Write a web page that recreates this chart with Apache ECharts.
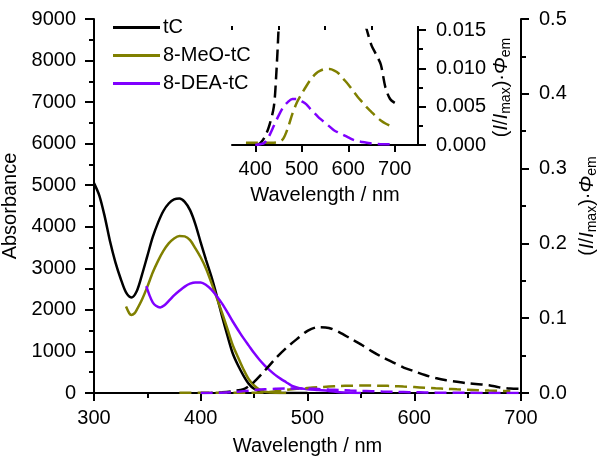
<!DOCTYPE html>
<html>
<head>
<meta charset="utf-8">
<script src="https://cdn.jsdelivr.net/npm/echarts@6/dist/echarts.min.js"></script>
<style>html,body{margin:0;padding:0;background:#fff}#c{width:600px;height:468px}</style>
</head>
<body>
<div id="c"></div>
<script>
// Absorbance data (nm, M^-1 cm^-1)
var tcAbsX = [300,305,310,315,320,325,330,335,340,345,350,355,360,365,370,375,380,385,390,395,400,405,410,415,420,425,430,435,440,445,450,455,460,470,500];
var tcAbsY = [5050,4750,4250,3650,3150,2750,2420,2300,2450,2850,3300,3750,4100,4380,4560,4660,4680,4600,4400,4060,3620,3200,2800,2340,1840,1380,950,660,420,220,100,40,10,0,0];
var meoAbsX = [330,333,335,338,340,345,350,355,360,365,370,375,380,385,390,395,400,405,410,415,420,425,430,435,440,445,450,455,460,470,480];
var meoAbsY = [2080,1920,1880,1920,2000,2250,2560,2900,3180,3420,3600,3720,3780,3770,3680,3480,3260,2990,2650,2290,1925,1540,1150,855,570,330,180,80,30,5,0];
var deaAbsX = [349,352,355,358,362,366,371,375,380,385,390,395,400,405,410,415,420,425,430,437,440,445,450,455,460,465,470,475,480,485,490,495,500,510,520,530,540,550];
var deaAbsY = [2570,2350,2180,2100,2060,2110,2240,2350,2460,2560,2630,2660,2660,2600,2490,2330,2150,1940,1720,1435,1320,1140,960,800,660,540,430,340,260,180,135,105,90,70,50,20,5,0];
// Emission data, (I/Imax)·Φem
var tcEmX = [400,410,420,430,440,445,450,460,470,480,490,500,510,520,530,540,550,560,570,580,590,600,610,620,630,640,650,660,670,680,690,700];
var tcEmY = [0,0.0002,0.001,0.0025,0.005,0.009,0.015,0.030,0.046,0.060,0.072,0.083,0.088,0.087,0.081,0.073,0.065,0.056,0.048,0.041,0.034,0.029,0.024,0.020,0.017,0.015,0.013,0.0118,0.0105,0.0075,0.006,0.0055];
var meoEmX = [380,400,420,440,450,460,470,480,490,500,510,520,530,540,550,560,570,580,590,600,610,620,630,640,650,660,670,680,690];
var meoEmY = [0.0003,0.0003,0.0003,0.0003,0.0004,0.0008,0.0022,0.0041,0.0056,0.0067,0.0077,0.0086,0.0093,0.0097,0.0099,0.0099,0.0097,0.0093,0.0086,0.0079,0.0071,0.0063,0.0056,0.0049,0.0043,0.0037,0.0032,0.0028,0.0025];
var deaEmX = [400,410,420,430,440,450,460,470,480,490,500,510,520,530,540,550,560,570,580,590,600,610,620,630,640,650,670,700];
var deaEmY = [0,0.0001,0.0003,0.0012,0.0025,0.0038,0.0049,0.0056,0.0060,0.0060,0.0057,0.0053,0.0046,0.0040,0.0034,0.0029,0.0024,0.0019,0.0016,0.0013,0.0010,0.0007,0.0005,0.0004,0.0003,0.0002,0.0001,0.0001];
var legendNames = ['tC','8-MeO-tC','8-DEA-tC'];
var insetXMajor = [400,500,600,700];
var insetXMinor = [350,450,550,650,750];

function pairs(xs, ys){ return xs.map(function(x,i){ return [x, ys[i]]; }); }

var FONT = 'Liberation Sans';
var BLACK = '#000000', OLIVE = '#808000', PURPLE = '#8000ff';
var txt = {color:'#000', fontFamily: FONT, fontSize: 20};
var axLine = {show:true, lineStyle:{color:'#000', width:2}};
var tk = function(len){ return {show:true, inside:false, length:len, lineStyle:{color:'#000', width:2}}; };
var emName = '({i|I}/{i|I}{sub|max})·{i|Φ}{sub|em}';
var emRich = {
  i: {fontStyle:'italic', fontFamily: FONT, fontSize: 20, color:'#000'},
  sub: {fontFamily: FONT, fontSize: 14, color:'#000', padding:[9,0,0,0]}
};
var plain = function(v){ return String(v); };

var chart = echarts.init(document.getElementById('c'), null, {renderer:'canvas'});
var dash = [12,6];
chart.setOption({
  animation:false,
  textStyle: {fontFamily: FONT},
  legend: {
    data: legendNames, orient:'vertical', left:108, top:12,
    itemWidth:47, itemHeight:3, itemGap:7, icon:'rect',
    textStyle: {color:'#000', fontFamily: FONT, fontSize:20, lineHeight:21, padding:[0,0,0,-2]}
  },
  grid: [
    {left:94, right:79, top:19, bottom:75, containLabel:false, outerBoundsMode:'none'},
    {left:232, right:182, top:30, bottom:323, containLabel:false, outerBoundsMode:'none'}
  ],
  xAxis: [
    {gridIndex:0, type:'value', min:300, max:700, interval:100, axisLine:axLine, axisTick:tk(8),
     minorTick:{show:true, splitNumber:2, length:5, lineStyle:{color:'#000', width:2}},
     splitLine:{show:false}, axisLabel:Object.assign({margin:15, formatter:plain}, txt),
     name:'Wavelength / nm', nameLocation:'middle', nameGap:43, nameTextStyle:txt},
    {gridIndex:1, type:'value', min:350, max:750, axisLine:axLine,
     axisTick:Object.assign(tk(7), {customValues: insetXMajor}),
     axisLabel:Object.assign({margin:14, customValues: insetXMajor, formatter:plain}, txt),
     splitLine:{show:false},
     name:'Wavelength / nm', nameLocation:'middle', nameGap:40, nameTextStyle:txt},
    {gridIndex:1, type:'value', min:350, max:750, axisLine:{show:false},
     axisTick:Object.assign(tk(4), {customValues: insetXMinor}),
     axisLabel:{show:false}, splitLine:{show:false}}
  ],
  yAxis: [
    {gridIndex:0, type:'value', min:0, max:9000, interval:1000, position:'left', axisLine:axLine, axisTick:tk(9),
     minorTick:{show:true, splitNumber:2, length:5, lineStyle:{color:'#000', width:2}},
     splitLine:{show:false}, axisLabel:Object.assign({margin:18, formatter:plain}, txt),
     name:'Absorbance', nameLocation:'middle', nameGap:72, nameTextStyle:txt},
    {gridIndex:0, type:'value', min:0, max:0.5, interval:0.1, position:'right', axisLine:axLine, axisTick:tk(8),
     minorTick:{show:true, splitNumber:2, length:5, lineStyle:{color:'#000', width:2}},
     splitLine:{show:false}, axisLabel:Object.assign({margin:18, formatter:function(v){return v.toFixed(1);}}, txt),
     name:emName, nameLocation:'middle', nameGap:52, nameTextStyle:Object.assign({rich:emRich}, txt)},
    {gridIndex:1, type:'value', min:0, max:0.015, interval:0.005, position:'right', axisLine:axLine, axisTick:tk(8),
     minorTick:{show:true, splitNumber:2, length:5, lineStyle:{color:'#000', width:2}},
     splitLine:{show:false}, axisLabel:Object.assign({margin:18, formatter:function(v){return v.toFixed(3);}}, txt),
     name:emName, nameLocation:'middle', nameGap:72, nameTextStyle:Object.assign({rich:emRich}, txt)}
  ],
  series: [
    {name:'tC', type:'line', xAxisIndex:0, yAxisIndex:0, data:pairs(tcAbsX, tcAbsY), showSymbol:false, symbol:'none', smooth:0.3, color:BLACK, lineStyle:{width:2.5, color:BLACK}},
    {name:'8-MeO-tC', type:'line', xAxisIndex:0, yAxisIndex:0, data:pairs(meoAbsX, meoAbsY), showSymbol:false, symbol:'none', smooth:0.3, color:OLIVE, lineStyle:{width:2.5, color:OLIVE}},
    {name:'8-DEA-tC', type:'line', xAxisIndex:0, yAxisIndex:0, data:pairs(deaAbsX, deaAbsY), showSymbol:false, symbol:'none', smooth:0.3, color:PURPLE, lineStyle:{width:2.5, color:PURPLE}},
    {name:'tC em', type:'line', xAxisIndex:0, yAxisIndex:1, data:pairs(tcEmX, tcEmY), symbol:'none', smooth:0.3, lineStyle:{width:2.5, color:BLACK, type:dash}},
    {name:'8-MeO-tC em', type:'line', xAxisIndex:0, yAxisIndex:1, data:pairs(meoEmX, meoEmY), symbol:'none', smooth:0.3, lineStyle:{width:2.5, color:OLIVE, type:dash}},
    {name:'8-DEA-tC em', type:'line', xAxisIndex:0, yAxisIndex:1, data:pairs(deaEmX, deaEmY), symbol:'none', smooth:0.3, lineStyle:{width:2.5, color:PURPLE, type:dash}},
    {name:'tC em inset', type:'line', xAxisIndex:1, yAxisIndex:2, data:pairs(tcEmX, tcEmY), symbol:'none', smooth:0.3, clip:true, lineStyle:{width:2.5, color:BLACK, type:dash}},
    {name:'8-MeO-tC em inset', type:'line', xAxisIndex:1, yAxisIndex:2, data:pairs(meoEmX, meoEmY), symbol:'none', smooth:0.3, clip:true, lineStyle:{width:2.5, color:OLIVE, type:dash}},
    {name:'8-DEA-tC em inset', type:'line', xAxisIndex:1, yAxisIndex:2, data:pairs(deaEmX, deaEmY), symbol:'none', smooth:0.3, clip:true, lineStyle:{width:2.5, color:PURPLE, type:dash}}
  ]
});
</script>
</body>
</html>
